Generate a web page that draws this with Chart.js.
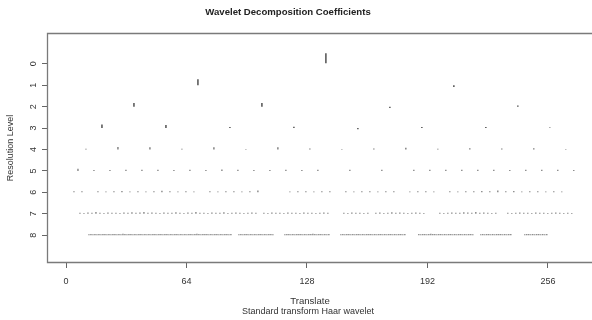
<!DOCTYPE html>
<html><head><meta charset="utf-8">
<script src="https://cdn.jsdelivr.net/npm/chart.js@4.4.1/dist/chart.umd.min.js"></script>
<style>html,body{margin:0;padding:0;background:#fff}#wrap{width:592px;height:320px;position:relative}</style>
</head><body><div id="wrap"><canvas id="c" width="592" height="320"></canvas></div>
<script>
// ---- text ----
const chartTitle = 'Wavelet Decomposition Coefficients';
const xTitle = 'Translate';
const subTitle = 'Standard transform Haar wavelet';
const yTitle = 'Resolution Level';
// ---- tick labels ----
const xTicks = [0, 64, 128, 192, 256];
const levelTicks = [0, 1, 2, 3, 4, 5, 6, 7, 8];
// translate range covered by coefficient positions (as drawn in the reference)
const translateRange = [2.1, 274];
// ---- coefficients per resolution level (in level units, + = upward) ----
const coef0 = [0.5];
const coef1 = [0.28, -0.08];
const coef2 = [0.17, 0.17, -0.06, 0.06];
const coef3 = [0.17, 0.14, 0.05, 0.06, -0.05, 0.05, 0.05, 0.03];
const coef4 = [0.04, 0.12, 0.1, 0.04, 0.1, 0.02, 0.1, 0.05, 0.02, 0.05, 0.08, 0.03, 0.06, 0.05, 0.06, 0.02];
const coef5 = [0.1, 0.04, 0.04, 0.06, 0.05, 0.05, 0.04, 0.05, 0.04, 0.07, 0.05, 0.04, 0.04, 0.05, 0.04, 0.05,
               0.0, 0.05, 0.0, 0.05, 0.0, 0.05, 0.05, 0.06, 0.05, 0.06, 0.05, 0.04, 0.06, 0.05, 0.05, 0.04];
const coef6 = [0.05, 0.05, 0, 0.05, 0.04, 0.05, 0.06, 0.04, 0.05, 0.04, 0.05, 0.07, 0.05, 0.04, 0.05, 0.04,
               0, 0.05, 0.04, 0.05, 0.05, 0.04, 0.05, 0.08, 0, 0, 0, 0.04, 0.05, 0.05, 0.04, 0.05,
               0.05, 0, 0.05, 0.04, 0.05, 0.05, 0.04, 0.05, 0.05, 0, 0.04, 0.05, 0.05, 0.04, 0, 0.05,
               0.04, 0.05, 0.05, 0.06, 0.05, 0.08, 0.05, 0.06, 0.04, 0.05, 0.05, 0.04, 0.05, 0.04, 0, 0];
const coef7 = [0, 0,
  0.05,0.04,0.06,0.05,0.08,0.05,0.04,0.06,0.05,0.05,0.04,0.06,0.05,0.07,0.05,0.06,0.08,0.05,0.06,
  0.05,0.04,0.06,0.05,0.05,0.07,0.05,0.04,0.06,0.05,0.08,0.05,0.05,0.04,0.06,0.05,0.05,0.07,0.04,0.05,0.06,0.05,0.04,0.05,0.06,0.05,
  0,
  0.05,0.04,0.06,0.05,0.05,0.04,0.06,0.05,0.05,0.04,0.06,0.05,0.05,0.04,0.05,0.06,0.05,
  0, 0, 0,
  0.05,0.04,0.06,0.05,0.05,0.04,0.05,
  0,
  0.05,0.06,0.04,0.05,0.07,0.05,0.06,0.05,0.04,0.05,0.06,0.05,0.04,
  0, 0, 0,
  0.05,0.04,0.05,0.06,0.05,0.05,0.07,0.06,0.05,0.08,0.05,0.06,0.05,0.04,0.05,
  0, 0,
  0.05,0.04,0.05,0.06,0.05,0.05,0.04,0.06,0.05,0.05,0.04,0.05,0.06,0.05,0.04,0.05,0.04,
  0, 0];
const coef8 = [0,0,0,0,0,0,0,0,0,
  0.04,0.05,0.04,0.06,0.04,0.05,0.04,0.05,0.06,0.04,0.05,0.04,
  0.05,0.06,0.04,0.05,0.04,0.07,0.05,0.04,0.05,0.06,0.04,0.05,
  0.04,0.05,0.06,0.04,0.05,0.04,0.05,0.04,0.06,0.05,0.04,0.05,
  0.05,0.04,0.06,0.05,0.04,0.05,0.04,0.05,0.06,0.04,0.05,0.04,
  0.05,0.04,0.05,0.06,0.04,0.05,0.07,0.05,0.04,0.05,0.06,0.05,
  0.04,0.05,0.04,0.06,0.05,0.04,0.05,0.04,0.05,0.06,0.04,0.05,
  0,0,0,
  0.04,0.05,0.04,0.05,0.06,0.04,0.05,0.04,0.05,0.04,0.06,0.05,
  0.04,0.05,0.04,0.05,0.06,0.04,
  0,0,0,0,0,
  0.04,0.05,0.06,0.04,0.05,0.04,0.05,0.06,0.05,0.04,0.05,0.04,
  0.06,0.05,0.07,0.05,0.04,0.05,0.06,0.04,0.05,0.04,0.05,
  0,0,0,0,0,
  0.04,0.05,0.04,0.05,0.06,0.04,0.05,0.04,0.05,0.06,0.04,0.05,
  0.04,0.05,0.06,0.05,0.04,0.05,0.04,0.06,0.05,0.04,0.05,0.04,
  0.05,0.06,0.04,0.05,0.04,0.05,0.06,0.04,0.05,
  0,0,0,0,0,0,
  0.05,0.04,0.06,0.05,0.04,0.05,0.07,0.06,0.05,0.04,0.05,0.06,
  0.04,0.05,0.04,0.05,0.06,0.04,0.05,0.04,0.05,0.06,0.04,0.05,
  0.04,0.05,0.06,0.04,
  0,0,0,
  0.04,0.05,0.04,0.05,0.06,0.04,0.05,0.04,0.05,0.06,0.05,0.04,
  0.05,0.04,0.06,0.05,
  0,0,0,0,0,0,
  0.04,0.05,0.06,0.04,0.05,0.04,0.05,0.06,0.04,0.05,0.04,0.05,
  0,0,0,0,0,0,0,0,0,0,0,0,0,0,0,0,0];
const levels = [coef0, coef1, coef2, coef3, coef4, coef5, coef6, coef7, coef8];

const FONT = "'Liberation Sans', Arial, Helvetica, sans-serif";

const datasets = levels.map((vals, j) => {
  const n = Math.pow(2, j);
  const step = (translateRange[1] - translateRange[0]) / n;
  return {
    data: vals.slice(0, n).map((d, k) => ({ x: translateRange[0] + (k + 0.5) * step, y: [j, j - d] })),
    backgroundColor: j < 5 ? '#444' : '#555',
    borderWidth: 0,
    barThickness: j < 4 ? 1.4 : 1,
    grouped: false,
    minBarLength: 0,
    inflateAmount: 0
  };
});

const decor = {
  id: 'decor',
  afterDraw(chart) {
    const c = chart.ctx, a = chart.chartArea;
    const ys = chart.scales.y;
    c.save();
    c.strokeStyle = '#7a7a7a';
    c.lineWidth = 1.3;
    c.beginPath();
    c.moveTo(a.right + 3, a.top + 0.5);
    c.lineTo(a.left + 0.5, a.top + 0.5);
    c.lineTo(a.left + 0.5, a.bottom - 0.5);
    c.lineTo(a.right + 3, a.bottom - 0.5);
    c.stroke();
    c.fillStyle = '#222';
    c.textAlign = 'center';
    c.textBaseline = 'middle';
    c.font = 'bold 9.6px ' + FONT;
    c.fillText(chartTitle, 288, 12);
    c.fillStyle = '#333';
    c.font = '9.6px ' + FONT;
    c.fillText(xTitle, 310, 301);
    c.font = '9px ' + FONT;
    c.fillText(subTitle, 308, 312);
    c.font = '9px ' + FONT;
    levelTicks.forEach(v => {
      const y = ys.getPixelForValue(v);
      c.save();
      c.translate(34, y);
      c.rotate(-Math.PI / 2);
      c.fillText(String(v), 0, 0);
      c.restore();
    });
    c.save();
    c.translate(11, (a.top + a.bottom) / 2);
    c.rotate(-Math.PI / 2);
    c.font = '9px ' + FONT;
    c.fillText(yTitle, 0, 0);
    c.restore();
    c.restore();
  }
};

new Chart(document.getElementById('c'), {
  type: 'bar',
  data: { datasets },
  options: {
    responsive: false,
    animation: false,
    devicePixelRatio: 1,
    layout: { padding: { top: 33, right: 0, left: 0, bottom: 0 } },
    plugins: { legend: { display: false }, title: { display: false }, tooltip: { enabled: false } },
    scales: {
      x: {
        type: 'linear', min: -10.1, max: 279.4, offset: false,
        afterBuildTicks: s => { s.ticks = xTicks.map(v => ({ value: v })); },
        grid: { offset: false, drawOnChartArea: false, drawTicks: true, tickLength: 5, color: '#666', lineWidth: 1 },
        border: { display: false },
        ticks: { color: '#333', font: { family: FONT, size: 9 }, padding: 8, maxRotation: 0, autoSkip: false },
        afterFit: s => { s.height = 57; }
      },
      y: {
        type: 'linear', reverse: true, min: -1.44, max: 9.3, offset: false,
        afterBuildTicks: s => { s.ticks = levelTicks.map(v => ({ value: v })); },
        grid: { offset: false, drawOnChartArea: false, drawTicks: true, tickLength: 5, color: '#666', lineWidth: 1 },
        border: { display: false },
        ticks: { display: false },
        afterFit: s => { s.width = 47; }
      }
    }
  },
  plugins: [decor]
});
</script>
</body></html>
